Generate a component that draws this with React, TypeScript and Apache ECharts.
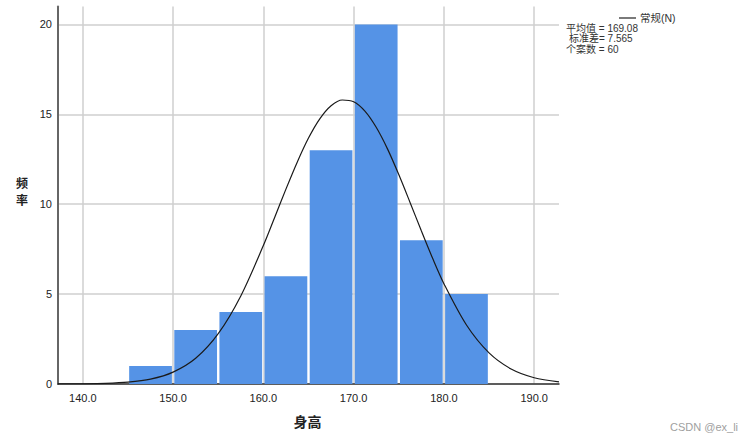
import React, { useEffect, useRef } from "react";
import * as echarts from "echarts";

// Histogram bins: [start, end, frequency]
const binStarts = [145, 150, 155, 160, 165, 170, 175, 180];
const binEnds = [150, 155, 160, 165, 170, 175, 180, 185];
const frequencies = [1, 3, 4, 6, 13, 20, 8, 5];

// Normal curve points (x, frequency)
const curveX = [137.25, 140, 142.5, 145, 147.5, 150, 152.5, 155, 157.5, 160, 161.25, 162.5, 163.75, 165, 166.25, 167.5, 168.75, 170, 171.25, 172.5, 173.75, 175, 176.25, 177.5, 178.75, 180, 182.5, 185, 187.5, 190, 192.75];
const curveY = [0.002, 0.01, 0.033, 0.1, 0.27, 0.66, 1.43, 2.8, 4.9, 7.7, 9.26, 10.84, 12.34, 13.68, 14.75, 15.48, 15.8, 15.7, 15.18, 14.28, 13.08, 11.65, 10.1, 8.52, 6.99, 5.58, 3.28, 1.73, 0.82, 0.35, 0.12];

const xTicks = [140, 150, 160, 170, 180, 190];
const yTicks = [0, 5, 10, 15, 20];

const statLines = ["平均值 = 169.08", "标准差= 7.565", "个案数 = 60"];

export default function App() {
  const ref = useRef<HTMLDivElement>(null);
  useEffect(() => {
    if (!ref.current) return;
    const chart = echarts.init(ref.current, undefined, { renderer: "svg" });
    const barData = binStarts.map((s, i) => [s, binEnds[i], frequencies[i]]);
    const lineData = curveX.map((x, i) => [x, curveY[i]]);
    const font = "Arial, 'Liberation Sans', 'Noto Sans CJK SC', sans-serif";
    const statStyle = (t: string) => ({ text: t, fontSize: 10, lineHeight: 10, fill: "#333", fontFamily: font, verticalAlign: "middle" });
    chart.setOption({
      animation: false,
      grid: { left: 58, right: 188, top: 6.5, bottom: 57 },
      xAxis: {
        type: "value",
        min: 137.25,
        max: 192.75,
        axisLine: { show: true, onZero: false, lineStyle: { color: "#333", width: 1.5 } },
        axisTick: { show: false, customValues: xTicks },
        axisLabel: {
          customValues: xTicks,
          formatter: (v: number) => v.toFixed(1),
          color: "#222",
          fontSize: 11,
          fontFamily: font,
          margin: 8,
        },
        splitLine: { show: true, lineStyle: { color: "#cfcfcf", width: 1.5 } },
      },
      yAxis: {
        type: "value",
        min: 0,
        max: 21,
        axisLine: { show: true, lineStyle: { color: "#666", width: 2 } },
        axisTick: { show: false, customValues: yTicks },
        axisLabel: {
          customValues: yTicks,
          color: "#222",
          fontSize: 11,
          fontFamily: font,
          margin: 6,
        },
        splitLine: { show: true, lineStyle: { color: "#cfcfcf", width: 1.5 } },
      },
      series: [
        {
          type: "custom",
          data: barData,
          encode: { x: [0, 1], y: 2 },
          renderItem: (params: any, api: any) => {
            const p0 = api.coord([api.value(0), api.value(2)]);
            const p1 = api.coord([api.value(1), 0]);
            return {
              type: "rect",
              shape: { x: p0[0] + 1.2, y: p0[1], width: p1[0] - p0[0] - 2.4, height: p1[1] - p0[1] },
              style: { fill: "#5593e6" },
            };
          },
          z: 2,
        },
        {
          type: "line",
          data: lineData,
          smooth: 0.3,
          symbol: "none",
          lineStyle: { color: "#1a1a1a", width: 1.2 },
          z: 3,
        },
      ],
      graphic: [
        {
          type: "line",
          shape: { x1: 619, y1: 18, x2: 636, y2: 18 },
          style: { stroke: "#222", lineWidth: 1.2 },
        },
        {
          type: "text",
          x: 640,
          y: 18,
          style: { text: "常规(N)", fontSize: 10.5, fill: "#333", fontFamily: font, verticalAlign: "middle" },
        },
        { type: "text", x: 566, y: 28, style: statStyle(statLines[0]) },
        { type: "text", x: 569, y: 38.5, style: statStyle(statLines[1]) },
        { type: "text", x: 566, y: 49, style: statStyle(statLines[2]) },
        {
          type: "text",
          x: 22,
          y: 182,
          style: { text: "频", fontSize: 12, lineHeight: 13, fontWeight: "bold", fill: "#222", fontFamily: "'Noto Sans CJK SC', sans-serif", align: "center", verticalAlign: "middle" },
        },
        {
          type: "text",
          x: 22,
          y: 199,
          style: { text: "率", fontSize: 12, lineHeight: 13, fontWeight: "bold", fill: "#222", fontFamily: "'Noto Sans CJK SC', sans-serif", align: "center", verticalAlign: "middle" },
        },
        {
          type: "text",
          x: 307.5,
          y: 420.5,
          style: { text: "身高", fontSize: 14, fontWeight: "bold", fill: "#222", fontFamily: "'Noto Sans CJK SC', sans-serif", align: "center", verticalAlign: "middle" },
        },
        {
          type: "text",
          x: 670,
          y: 427,
          style: { text: "CSDN @ex_li", fontSize: 11, fill: "#a0a0a0", fontFamily: font, verticalAlign: "middle" },
        },
      ],
    });
    return () => chart.dispose();
  }, []);
  return (
    <div
      ref={ref}
      style={{ position: "fixed", left: 0, top: 0, width: 747, height: 441, background: "#fff" }}
    />
  );
}
